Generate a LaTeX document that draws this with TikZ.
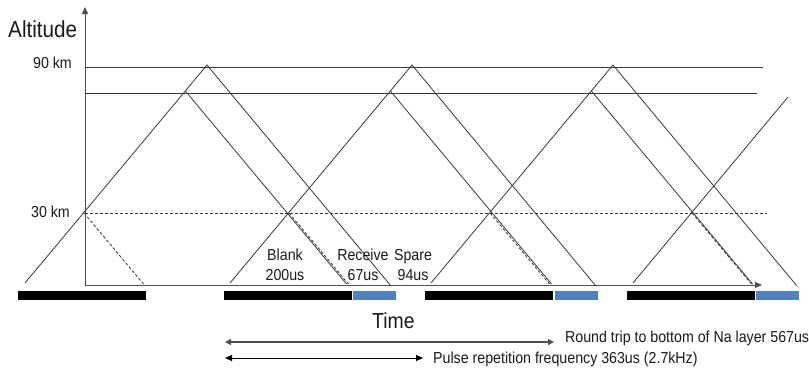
\documentclass[tikz,border=0pt]{standalone}
\usepackage{fontspec}
\usepackage{graphicx}
\setmainfont{Liberation Sans}
\usetikzlibrary{arrows.meta}
\definecolor{ln}{HTML}{383838}
\definecolor{axisc}{HTML}{505050}
\definecolor{txt}{HTML}{1A1A1A}
\definecolor{barblue}{HTML}{4F81BD}
\newcommand{\tallt}[1]{\scalebox{1}[1.12]{#1}}
\tikzset{
  ray/.style={draw=ln, line width=0.8pt},
  rayd/.style={draw=ln, line width=0.8pt, dashed, dash pattern=on 3pt off 2pt},
  level/.style={draw=ln, line width=0.8pt},
  axisline/.style={draw=axisc, line width=0.9pt, -{Triangle[length=7pt,width=6pt]}},
  lbl/.style={inner sep=0pt, text=txt, font=\fontsize{14.2}{17}\selectfont},
  biglbl/.style={inner sep=0pt, text=txt, font=\fontsize{20.7}{24}\selectfont},
  timelbl/.style={inner sep=0pt, text=txt, font=\fontsize{19.4}{23}\selectfont},
  blackbar/.style={fill=black},
  bluebar/.style={fill=barblue},
  dimA/.style={draw=axisc, line width=1.5pt, {Triangle[length=6pt,width=6pt]}-{Triangle[length=6pt,width=6pt]}},
  dimB/.style={draw=black, line width=0.9pt, {Triangle[length=7pt,width=6pt]}-{Triangle[length=7pt,width=6pt]}}
}
\begin{document}
\begin{tikzpicture}[x=1pt,y=-1pt]
\useasboundingbox (0,0) rectangle (809,368);

% axes
\coordinate (o) at (85,285);
\coordinate (ytop) at (85,7);
\coordinate (xend) at (762,285);
\draw[axisline] (o) -- (ytop);
\draw[axisline] (o) -- (xend);

% altitude levels
\coordinate (h90a) at (85,67);  \coordinate (h90b) at (763,67);
\coordinate (h80a) at (85,93);  \coordinate (h80b) at (757,93);
\coordinate (h30a) at (85,213); \coordinate (h30b) at (767,213);
\draw[level] (h90a) -- (h90b);
\draw[level] (h80a) -- (h80b);
\draw[rayd] (h30a) -- (h30b);

% pulses
\foreach \s/\i in {25/1,230/2,431/3}{
  \coordinate (p\i-s) at (\s,283);
  \coordinate (p\i-t) at (\s+182,65);
  \coordinate (p\i-l) at (\s+160.4,91);
  \coordinate (p\i-e) at (\s+366,286);
  \coordinate (p\i-f) at (\s+321.5,284);
  \draw[ray] (p\i-s) -- (p\i-t) -- (p\i-e);
  \draw[ray] (p\i-l) -- (p\i-f);
}
\coordinate (p4-s) at (633,283);
\coordinate (p4-t) at (788,97);
\draw[ray] (p4-s) -- (p4-t);

% dashed 30 km returns
\foreach \s/\i in {25/1,230/2,431/3,633/4}{
  \coordinate (d\i-a) at (\s+59,213);
  \coordinate (d\i-b) at (\s+118.5,284);
  \draw[rayd] (d\i-a) -- (d\i-b);
}

% bars
\foreach \a in {18,224,425,627}{
  \fill[blackbar] (\a,291) rectangle (\a+128,300);
}
\foreach \a in {353,555,756}{
  \fill[bluebar] (\a,291) rectangle (\a+43,300);
}

% labels
\node[biglbl, anchor=base west] (alt) at (8,37) {\tallt{Altitude}};
\node[lbl, anchor=base east] (k90) at (72,68) {\tallt{90 km}};
\node[lbl, anchor=base east] (k30) at (70,217) {\tallt{30 km}};
\node[lbl, anchor=base] (blank1) at (285,260) {\tallt{Blank}};
\node[lbl, anchor=base] (blank2) at (285,280) {\tallt{200us}};
\node[lbl, anchor=base] (rec1) at (363,260) {\tallt{Receive}};
\node[lbl, anchor=base] (rec2) at (363,280) {\tallt{67us}};
\node[lbl, anchor=base] (spa1) at (413,260) {\tallt{Spare}};
\node[lbl, anchor=base] (spa2) at (413,280) {\tallt{94us}};
\node[timelbl, anchor=base west] (time) at (372,328) {\tallt{Time}};

% dimension arrows
\coordinate (a1l) at (225,342); \coordinate (a1r) at (554,342);
\coordinate (a2l) at (225,358); \coordinate (a2r) at (423,358);
\draw[dimA] (a1l) -- (a1r);
\draw[dimB] (a2l) -- (a2r);
\node[lbl, anchor=base west] (rt) at (565,342) {\tallt{Round trip to bottom of Na layer 567us}};
\node[lbl, anchor=base west] (prf) at (433,363) {\tallt{Pulse repetition frequency 363us (2.7kHz)}};
\end{tikzpicture}
\end{document}
